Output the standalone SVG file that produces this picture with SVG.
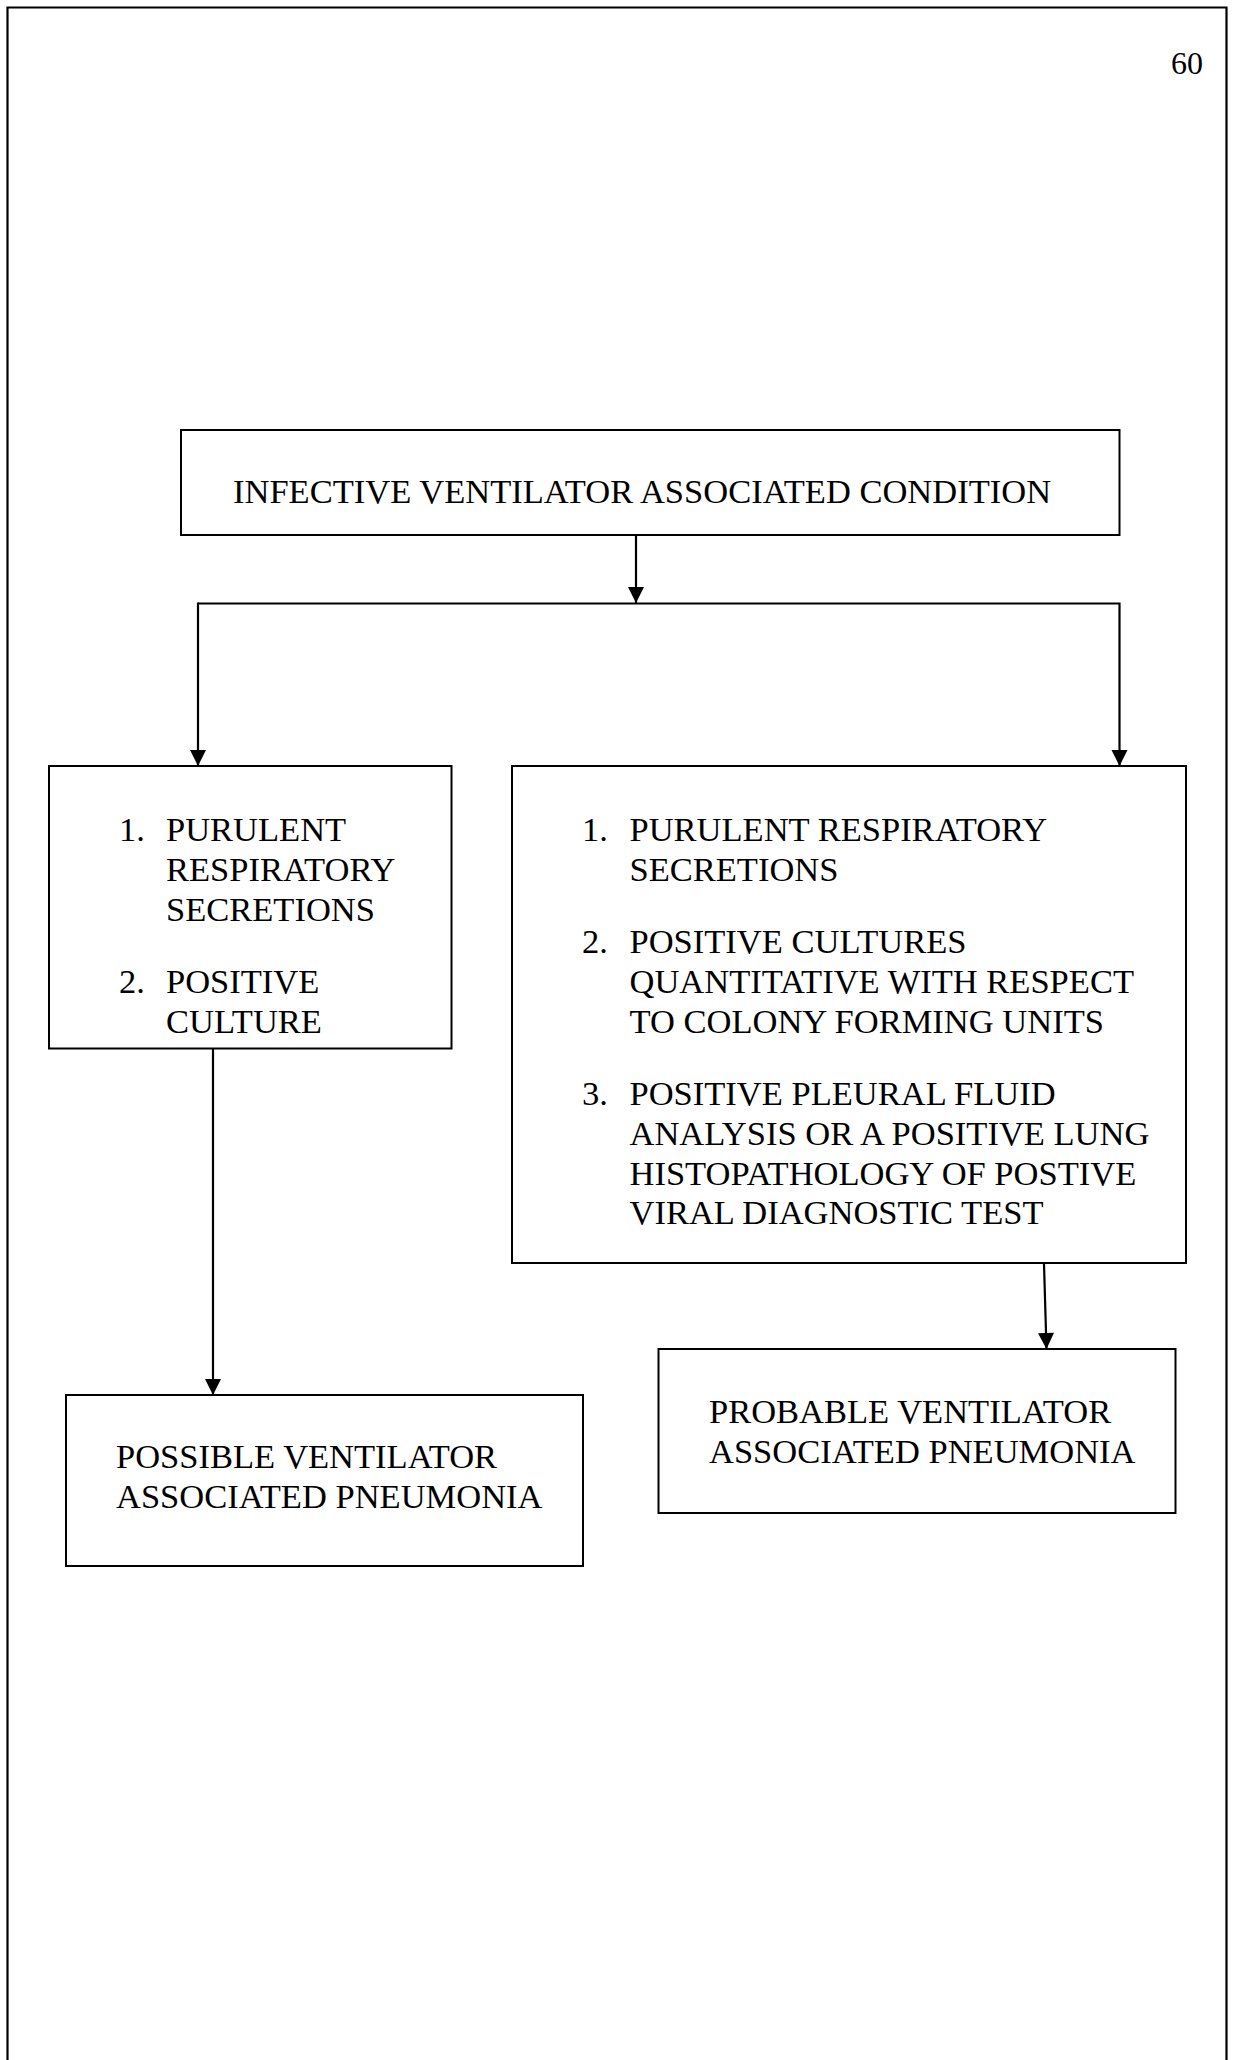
<svg xmlns="http://www.w3.org/2000/svg" width="1235" height="2060" viewBox="0 0 1235 2060">
<style>
  .box{fill:#fff;stroke:#000;stroke-width:2}
  .ln{fill:none;stroke:#000;stroke-width:2.2}
  text{font-family:"Liberation Serif","Times New Roman",serif;font-size:34.5px;fill:#000}
</style>
<defs>
  <marker id="arr" markerUnits="userSpaceOnUse" markerWidth="18" markerHeight="18" viewBox="0 0 18 18" refX="17" refY="9" orient="auto">
    <path d="M1,1 L17,9 L1,17 Z" fill="#000"/>
  </marker>
</defs>
<rect width="1235" height="2060" fill="#fff"/>
<path class="ln" d="M7.5,2070 V7.5 H1226.5 V2070"/>
<text x="1203" y="74" text-anchor="end" style="font-size:32px">60</text>

<g id="connectors">
  <path class="ln" d="M636,535 V603" marker-end="url(#arr)"/>
  <path class="ln" d="M198,603.5 H1119.5 V766" marker-end="url(#arr)"/>
  <path class="ln" d="M198,602.5 V766" marker-end="url(#arr)"/>
  <path class="ln" d="M213,1049 V1395" marker-end="url(#arr)"/>
  <path class="ln" d="M1044,1264 L1046.5,1349" marker-end="url(#arr)"/>
</g>

<g id="node-top">
  <rect class="box" x="181" y="430" width="938.5" height="105"/>
  <text x="233" y="503">INFECTIVE VENTILATOR ASSOCIATED CONDITION</text>
</g>

<g id="node-left">
  <rect class="box" x="49" y="766" width="402.5" height="282.5"/>
  <text x="119" y="841">1.</text>
  <text x="166" y="841">PURULENT</text>
  <text x="166" y="880.5">RESPIRATORY</text>
  <text x="166" y="920.5">SECRETIONS</text>
  <text x="119" y="992.5">2.</text>
  <text x="166" y="992.5">POSITIVE</text>
  <text x="166" y="1032.5">CULTURE</text>
</g>

<g id="node-right">
  <rect class="box" x="512" y="766" width="674" height="497"/>
  <text x="582" y="841">1.</text>
  <text x="629.5" y="841">PURULENT RESPIRATORY</text>
  <text x="629.5" y="880.5">SECRETIONS</text>
  <text x="582" y="953">2.</text>
  <text x="629.5" y="953">POSITIVE CULTURES</text>
  <text x="629.5" y="992.5">QUANTITATIVE WITH RESPECT</text>
  <text x="629.5" y="1032.5">TO COLONY FORMING UNITS</text>
  <text x="582" y="1105">3.</text>
  <text x="629.5" y="1105">POSITIVE PLEURAL FLUID</text>
  <text x="629.5" y="1144.5">ANALYSIS OR A POSITIVE LUNG</text>
  <text x="629.5" y="1184.5">HISTOPATHOLOGY OF POSTIVE</text>
  <text x="629.5" y="1224">VIRAL DIAGNOSTIC TEST</text>
</g>

<g id="node-possible">
  <rect class="box" x="66" y="1395" width="517" height="171"/>
  <text x="116" y="1468">POSSIBLE VENTILATOR</text>
  <text x="116" y="1508">ASSOCIATED PNEUMONIA</text>
</g>

<g id="node-probable">
  <rect class="box" x="658.5" y="1349" width="517" height="164"/>
  <text x="709" y="1423">PROBABLE VENTILATOR</text>
  <text x="709" y="1463">ASSOCIATED PNEUMONIA</text>
</g>
</svg>
